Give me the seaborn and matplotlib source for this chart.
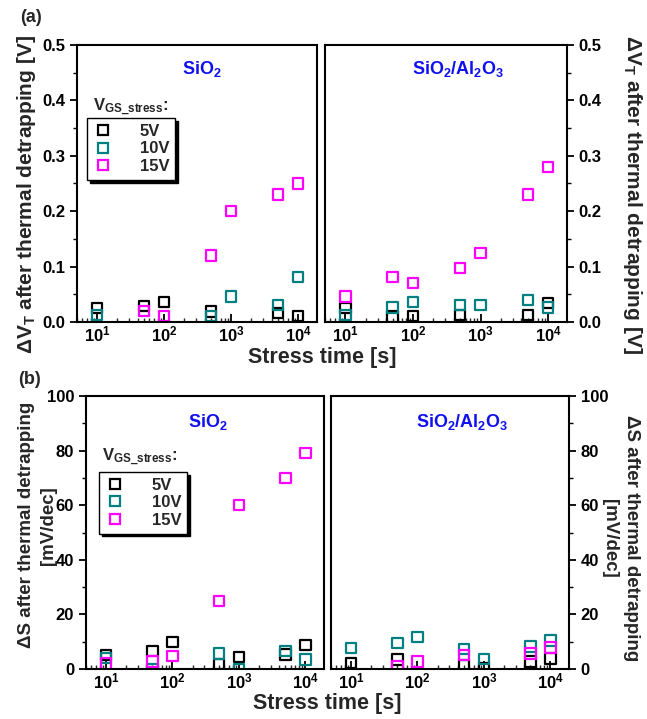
import numpy as np
import pandas as pd
import matplotlib
matplotlib.use("Agg")
import matplotlib.pyplot as plt
import matplotlib.ticker as mticker
from matplotlib.lines import Line2D
import seaborn as sns

# ---------------- data ----------------
stress_time = [10, 50, 100, 500, 1000, 5000, 10000]
voltages = ["5V", "10V", "15V"]
nan = np.nan

# (a) threshold-voltage shift after thermal detrapping [V]
dvt_sio2_5v = [0.025, 0.029, 0.036, 0.019, nan, 0.016, 0.011]
dvt_sio2_10v = [0.013, nan, nan, 0.011, 0.046, 0.031, 0.081]
dvt_sio2_15v = [nan, 0.020, 0.011, 0.120, 0.200, 0.230, 0.250]

dvt_al2o3_5v = [0.025, 0.010, 0.011, 0.013, nan, 0.013, 0.034]
dvt_al2o3_10v = [0.013, 0.026, 0.036, 0.031, 0.031, 0.040, 0.026]
dvt_al2o3_15v = [0.046, 0.081, 0.070, 0.098, 0.124, 0.230, 0.280]

# (b) subthreshold-swing shift after thermal detrapping [mV/dec]
ds_sio2_5v = [5.1, 6.7, 9.8, 1.8, 4.5, 5.3, 8.8]
ds_sio2_10v = [4.0, 0.0, nan, 5.7, 0.0, 6.7, 3.5]
ds_sio2_15v = [2.0, 2.8, 4.8, 25.0, 60.0, 70.0, 79.0]

ds_al2o3_5v = [2.1, 3.5, nan, 1.5, 0.3, 2.8, 3.9]
ds_al2o3_10v = [7.7, 9.6, 11.6, 7.2, 3.7, 8.2, 10.4]
ds_al2o3_15v = [nan, 1.1, 2.7, 5.2, nan, 5.7, 7.9]

colors = {"5V": "#000000", "10V": "#008080", "15V": "#FF00FF"}


def long_table(series):
    frames = []
    for v, vals in zip(voltages, series):
        frames.append(pd.DataFrame({"t": stress_time, "val": vals, "V": v}))
    return pd.concat(frames, ignore_index=True).dropna()


panels = {
    "a_left": long_table([dvt_sio2_5v, dvt_sio2_10v, dvt_sio2_15v]),
    "a_right": long_table([dvt_al2o3_5v, dvt_al2o3_10v, dvt_al2o3_15v]),
    "b_left": long_table([ds_sio2_5v, ds_sio2_10v, ds_sio2_15v]),
    "b_right": long_table([ds_al2o3_5v, ds_al2o3_10v, ds_al2o3_15v]),
}

# ---------------- style ----------------
sns.set_theme(style="white")
plt.rcParams["font.family"] = ["Liberation Sans", "DejaVu Sans"]
plt.rcParams["font.weight"] = "bold"
plt.rcParams["axes.labelweight"] = "bold"
plt.rcParams["mathtext.fontset"] = "custom"
plt.rcParams["mathtext.rm"] = "Liberation Sans:bold"
plt.rcParams["mathtext.bf"] = "Liberation Sans:bold"
plt.rcParams["mathtext.it"] = "Liberation Sans:bold"
plt.rcParams["mathtext.default"] = "bf"

W, H = 647, 719
fig = plt.figure(figsize=(W / 100, H / 100), dpi=100)


def px_axes(x0, x1, y0, y1):
    return fig.add_axes([x0 / W, 1 - y1 / H, (x1 - x0) / W, (y1 - y0) / H])


ax_al = px_axes(77, 317, 45, 322)
ax_ar = px_axes(325, 567, 45, 322)
ax_bl = px_axes(86, 324, 396, 669)
ax_br = px_axes(331, 569, 396, 669)

blue = "#1010F0"
dvt_label = "ΔV$_\\mathbf{T}$ after thermal detrapping [V]"
ds_label = "ΔS after thermal detrapping\n[mV/dec]"


def draw(ax, df, side, ylim, ymajor, yminor, ylabel, label_size, label_xy):
    sns.scatterplot(data=df, x="t", y="val", hue="V", hue_order=voltages,
                    palette=colors, marker="s", s=55, linewidth=1.6,
                    legend=False, ax=ax)
    coll = ax.collections[-1]
    fc = coll.get_facecolors()
    coll.set_edgecolors(fc)
    coll.set_facecolors("none")

    ax.set_xscale("log")
    ax.set_xlim(5, 1.9e4)
    ax.set_ylim(*ylim)
    ax.xaxis.set_major_locator(mticker.FixedLocator([10, 100, 1000, 10000]))
    ax.xaxis.set_major_formatter(mticker.FuncFormatter(
        lambda v, p: r"$\mathbf{10^{%d}}$" % round(np.log10(v))))
    ax.xaxis.set_minor_locator(mticker.LogLocator(base=10, subs=np.arange(2, 10)))
    ax.xaxis.set_minor_formatter(mticker.NullFormatter())
    ax.yaxis.set_major_locator(mticker.MultipleLocator(ymajor))
    ax.yaxis.set_minor_locator(mticker.MultipleLocator(yminor))

    for sp in ax.spines.values():
        sp.set_visible(True)
        sp.set_color("black")
        sp.set_linewidth(1.5)

    ax.tick_params(axis="x", which="major", direction="in", length=6, width=1.3,
                   labelsize=12, pad=2, bottom=True, top=False, colors="black")
    ax.tick_params(axis="x", which="minor", direction="in", length=3, width=1.0,
                   bottom=True, top=False)
    if side == "left":
        ax.tick_params(axis="y", which="both", direction="out", left=True,
                       right=False, labelleft=True, labelright=False,
                       labelsize=12, colors="black")
        ax.tick_params(axis="y", which="major", length=5, width=1.3)
        ax.tick_params(axis="y", which="minor", length=3, width=1.0)
        ax.set_ylabel(ylabel, fontsize=label_size, fontweight="bold",
                      linespacing=1.4)
    else:
        ax.yaxis.tick_right()
        ax.yaxis.set_label_position("right")
        ax.tick_params(axis="y", which="both", direction="out", left=False,
                       right=True, labelleft=False, labelright=True,
                       labelsize=12, colors="black")
        ax.tick_params(axis="y", which="major", length=5, width=1.3)
        ax.tick_params(axis="y", which="minor", length=3, width=1.0)
        ax.set_ylabel(ylabel, fontsize=label_size, fontweight="bold",
                      rotation=270, va="bottom", linespacing=1.4)
    ax.yaxis.set_label_coords(*label_xy)
    ax.set_xlabel("")
    ax.grid(False)
    ax.set_facecolor("white")
    return ax


draw(ax_al, panels["a_left"], "left", (0, 0.5), 0.1, 0.05, dvt_label, 15,
     (-0.163, 0.46))
draw(ax_ar, panels["a_right"], "right", (0, 0.5), 0.1, 0.05, dvt_label, 15,
     (1.223, 0.46))
draw(ax_bl, panels["b_left"], "left", (0, 100), 20, 10, ds_label, 13.5,
     (-0.122, 0.527))
draw(ax_br, panels["b_right"], "right", (0, 100), 20, 10, ds_label, 13.5,
     (1.134, 0.48))
for ax in (ax_al, ax_ar):
    ax.yaxis.set_major_formatter(mticker.FuncFormatter(lambda v, p: f"{v:.1f}"))
for ax in (ax_bl, ax_br):
    ax.yaxis.set_major_formatter(mticker.FuncFormatter(lambda v, p: f"{v:.0f}"))

# material labels
ax_al.text(0.52, 0.915, "SiO$_2$", transform=ax_al.transAxes, ha="center",
           va="center", color=blue, fontsize=13, fontweight="bold")
ax_ar.text(0.55, 0.915, "SiO$_2$/Al$_2$O$_3$", transform=ax_ar.transAxes,
           ha="center", va="center", color=blue, fontsize=13, fontweight="bold")
ax_bl.text(0.51, 0.905, "SiO$_2$", transform=ax_bl.transAxes, ha="center",
           va="center", color=blue, fontsize=13, fontweight="bold")
ax_br.text(0.55, 0.905, "SiO$_2$/Al$_2$O$_3$", transform=ax_br.transAxes,
           ha="center", va="center", color=blue, fontsize=13, fontweight="bold")

# legends with the gate-stress voltage heading above the box
handles = [Line2D([], [], marker="s", ls="", mfc="none", mec=colors[v],
                  ms=7.5, mew=1.6) for v in voltages]
for ax, anchor, head in ((ax_al, (0.042, 0.736), (0.067, 0.775)),
                         (ax_bl, (0.055, 0.722), (0.067, 0.775))):
    leg = ax.legend(handles, voltages, loc="upper left", bbox_to_anchor=anchor,
                    borderaxespad=0, frameon=True, fancybox=False,
                    shadow={"color": "black", "alpha": 1.0},
                    prop={"family": "Liberation Sans", "weight": "bold", "size": 12},
                    handletextpad=1.6, labelspacing=0.15, borderpad=0.35,
                    handlelength=1.2, edgecolor="black")
    leg.get_frame().set_linewidth(1.0)
    ax.text(head[0], head[1], "V$_{\\mathbf{GS\\_stress}}$:", transform=ax.transAxes,
            ha="left", va="center", fontsize=12, fontweight="bold")

# common x-axis titles and panel tags
fig.text(322 / W, 1 - 357 / H, "Stress time [s]", ha="center", va="center",
         fontsize=15.5, fontweight="bold")
fig.text(327 / W, 1 - 703 / H, "Stress time [s]", ha="center", va="center",
         fontsize=15.5, fontweight="bold")
fig.text(20 / W, 1 - 18 / H, "(a)", ha="left", va="center", fontsize=13,
         fontweight="bold")
fig.text(18 / W, 1 - 379 / H, "(b)", ha="left", va="center", fontsize=13,
         fontweight="bold")

fig.savefig("out.png", dpi=100, facecolor="white")
